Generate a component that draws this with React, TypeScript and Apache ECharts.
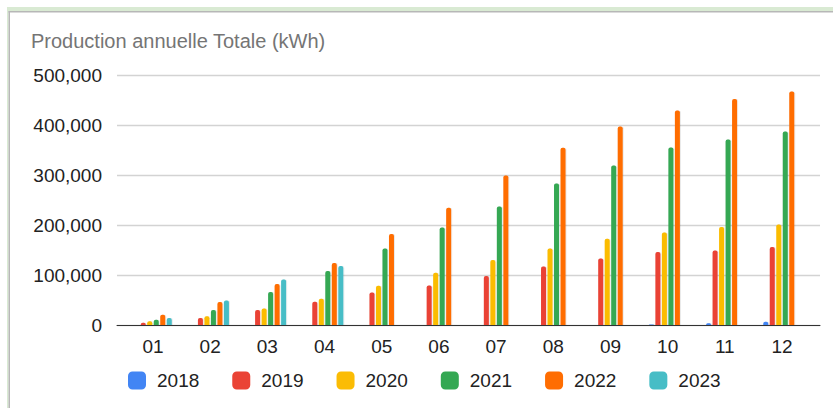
import React, { useEffect, useRef } from "react";
import * as echarts from "echarts";

const months = ["01", "02", "03", "04", "05", "06", "07", "08", "09", "10", "11", "12"];
const yearNames = ["2018", "2019", "2020", "2021", "2022", "2023"];
const yearColors = ["#4285F4", "#EA4335", "#FBBC04", "#34A853", "#FF6D01", "#46BDC6"];
const y2018 = [null, null, null, null, null, null, null, null, null, 800, 3300, 6500];
const y2019 = [4500, 14000, 30000, 46500, 65000, 79000, 98000, 117000, 133000, 146000, 149000, 156000];
const y2020 = [7500, 17500, 33000, 52500, 78500, 104500, 130000, 153000, 172500, 185000, 196000, 201000];
const y2021 = [10500, 30000, 66000, 108000, 153000, 195000, 237000, 283000, 319000, 355000, 371000, 387000];
const y2022 = [20500, 46000, 82000, 124000, 182000, 234500, 299000, 354500, 397000, 429000, 452000, 467000];
const y2023 = [14000, 49000, 91000, 118000, null, null, null, null, null, null, null, null];
const seriesValues = [y2018, y2019, y2020, y2021, y2022, y2023];
const yTicks = [0, 100000, 200000, 300000, 400000, 500000];

const FONT = '"Liberation Sans", Arial, sans-serif';

export default function App() {
  const ref = useRef<HTMLDivElement>(null);
  useEffect(() => {
    if (!ref.current) return;
    const chart = echarts.init(ref.current, undefined, { renderer: "svg" });
    const yMax = yTicks[yTicks.length - 1];
    const yStep = yTicks[1] - yTicks[0];
    chart.setOption({
      animation: false,
      backgroundColor: "#ffffff",
      title: {
        text: "Production annuelle Totale (kWh)",
        left: 31,
        top: 31,
        padding: 0,
        textStyle: { fontFamily: FONT, fontSize: 20, fontWeight: "normal", color: "#757575" },
      },
      graphic: [
        { type: "rect", shape: { x: 7, y: 7, width: 826, height: 4 }, style: { fill: "#d9ead3" }, silent: true },
        { type: "rect", shape: { x: 7, y: 7, width: 1.5, height: 401 }, style: { fill: "#d9ead3" }, silent: true },
        { type: "rect", shape: { x: 8.5, y: 11, width: 824.5, height: 1.5 }, style: { fill: "#b7b7b7" }, silent: true },
        { type: "rect", shape: { x: 8.5, y: 11, width: 1.5, height: 397 }, style: { fill: "#b7b7b7" }, silent: true },
      ],
      legend: {
        data: yearNames,
        left: 128,
        top: 371,
        padding: 0,
        itemWidth: 18,
        itemHeight: 18,
        itemGap: 33,
        icon: "roundRect",
        textStyle: { fontFamily: FONT, fontSize: 19, color: "#222222", padding: [0, 0, 0, 6], lineHeight: 18 },
      },
      grid: [
        { left: 117, right: 13, top: 75, bottom: 83 },
        { left: 124.4, right: 22.4, top: 75, bottom: 83 },
      ],
      xAxis: [
        {
          gridIndex: 0,
          type: "value",
          min: 0,
          max: 1,
          axisLine: { show: true, onZero: false, lineStyle: { color: "#333333", width: 1 } },
          axisTick: { show: false },
          axisLabel: { show: false },
          splitLine: { show: false },
        },
        {
          gridIndex: 1,
          type: "category",
          data: months,
          axisLine: { show: false },
          axisTick: { show: false },
          axisLabel: { fontFamily: FONT, fontSize: 19, color: "#222222", margin: 12 },
        },
      ],
      yAxis: [
        {
          gridIndex: 0,
          type: "value",
          min: 0,
          max: yMax,
          interval: yStep,
          axisLine: { show: false },
          axisTick: { show: false },
          axisLabel: {
            fontFamily: FONT,
            fontSize: 19,
            color: "#222222",
            margin: 15,
            formatter: (v: number) => v.toLocaleString("en-US"),
          },
          splitLine: { lineStyle: { color: "#d3d3d3", width: 1.3 } },
        },
        {
          gridIndex: 1,
          type: "value",
          min: 0,
          max: yMax,
          interval: yStep,
          show: false,
          splitLine: { show: false },
        },
      ],
      series: yearNames.map((name, i) => ({
        name,
        type: "bar",
        xAxisIndex: 1,
        yAxisIndex: 1,
        data: seriesValues[i],
        barWidth: 5,
        barGap: "30%",
        z: 3,
        itemStyle: {
          color: yearColors[i],
          borderRadius: [2, 2, 0, 0],
          shadowColor: "rgba(0,0,0,0.18)",
          shadowBlur: 1,
          shadowOffsetX: 0.5,
        },
      })),
    });
    return () => chart.dispose();
  }, []);
  return (
    <div
      ref={ref}
      style={{ position: "absolute", left: 0, top: 0, width: 833, height: 408 }}
    />
  );
}
